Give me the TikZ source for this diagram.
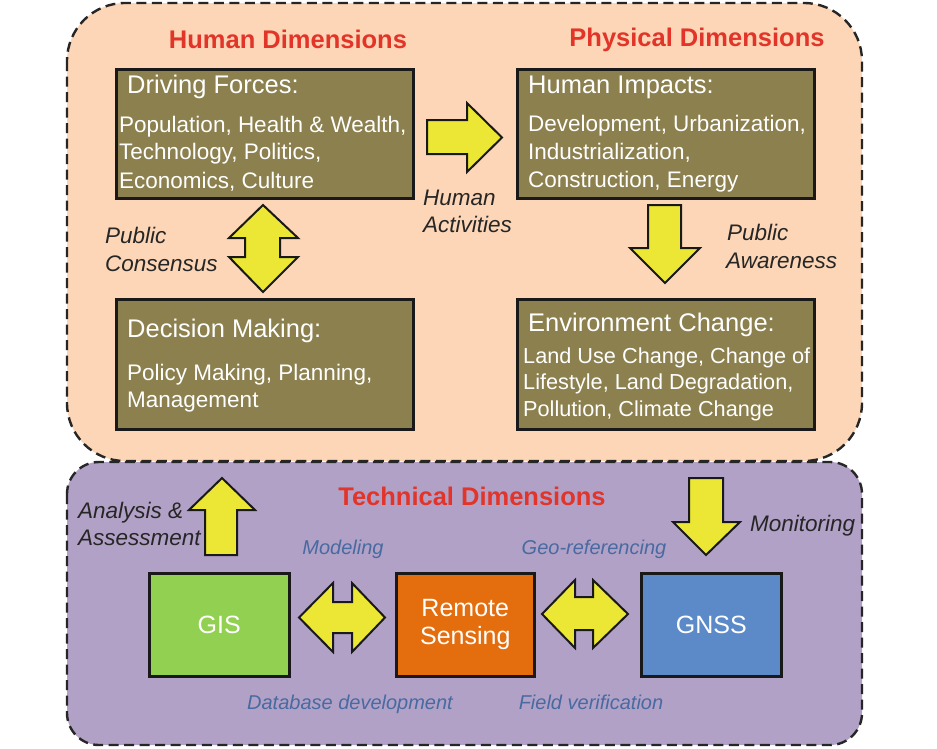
\documentclass[tikz,border=0pt]{standalone}
\usepackage{fontspec}
\setmainfont{Liberation Sans}
\definecolor{peach}{RGB}{252,214,182}
\definecolor{lavender}{RGB}{178,161,199}
\definecolor{olivebox}{RGB}{139,128,78}
\definecolor{arrowyellow}{RGB}{236,230,52}
\definecolor{headred}{RGB}{226,52,40}
\definecolor{labelblue}{RGB}{72,106,160}
\definecolor{gisgreen}{RGB}{146,208,82}
\definecolor{rsorange}{RGB}{228,110,14}
\definecolor{gnssblue}{RGB}{92,138,200}
\begin{document}
\begin{tikzpicture}[x=1pt,y=-1pt,
  panel/.style={draw=black!85, line width=2.4pt, dash pattern=on 10pt off 5.5pt},
  box/.style={draw=black!90, line width=2.5pt, inner sep=0, anchor=north west},
  boxtitle/.style={anchor=base west, inner sep=0, text=white, font=\fontsize{25.5}{30}\selectfont},
  boxline/.style={anchor=base west, inner sep=0, text=white, font=\fontsize{22.5}{27}\selectfont},
  narrowline/.style={boxline, font=\fontsize{21.7}{27}\selectfont},
  heading/.style={anchor=base, inner sep=0, text=headred, font=\fontsize{25.5}{30}\selectfont\bfseries},
  flowlabel/.style={anchor=base west, inner sep=0, text=black!85, font=\fontsize{22.5}{27}\selectfont\itshape},
  techlabel/.style={anchor=base, inner sep=0, text=labelblue, font=\fontsize{20}{24}\selectfont\itshape},
  techbox/.style={draw=black!90, line width=2.5pt, inner sep=0, anchor=north west, text=white,
    align=center, font=\fontsize{25}{30}\selectfont},
  blockarrow/.style={draw=black!90, line width=2pt, fill=arrowyellow, line join=miter}
]
\useasboundingbox[fill=white] (0,0) rectangle (937,748);

% panels
\draw[panel, fill=lavender, rounded corners=32pt] (67,462) rectangle (862,745);
\draw[panel, fill=peach, rounded corners=58pt] (67,3) rectangle (862,461);

% headings
\node[heading] (hhum) at (288,48) {Human Dimensions};
\node[heading] (hphy) at (697,46) {Physical Dimensions};
\node[heading] (htec) at (472,505) {Technical Dimensions};

% driving forces
\node[box, fill=olivebox, minimum width=297, minimum height=129] (df) at (115,68) {};
\node[boxtitle] (dft) at (127,93) {Driving Forces:};
\node[boxline] (df1) at (119,132) {Population, Health \& Wealth,};
\node[boxline] (df2) at (119,159) {Technology, Politics,};
\node[boxline] (df3) at (119,188) {Economics, Culture};

% human impacts
\node[box, fill=olivebox, minimum width=297, minimum height=129] (hi) at (516,68) {};
\node[boxtitle] (hit) at (528,93) {Human Impacts:};
\node[boxline] (hi1) at (528,131) {Development, Urbanization,};
\node[boxline] (hi2) at (528,159) {Industrialization,};
\node[boxline] (hi3) at (528,187) {Construction, Energy};

% decision making
\node[box, fill=olivebox, minimum width=297, minimum height=130] (dm) at (115,298) {};
\node[boxtitle] (dmt) at (127,337) {Decision Making:};
\node[boxline] (dm1) at (127,380) {Policy Making, Planning,};
\node[boxline] (dm2) at (127,407) {Management};

% environment change
\node[box, fill=olivebox, minimum width=297, minimum height=130] (ec) at (516,298) {};
\node[boxtitle] (ect) at (528,331) {Environment Change:};
\node[narrowline] (ec1) at (523,363) {Land Use Change, Change of};
\node[narrowline] (ec2) at (523,389) {Lifestyle, Land Degradation,};
\node[narrowline] (ec3) at (523,416) {Pollution, Climate Change};

% technical boxes
\node[techbox, fill=gisgreen, minimum width=140, minimum height=103] (gis) at (148,572) {GIS};
\node[techbox, fill=rsorange, minimum width=138, minimum height=103] (rs) at (395,572) {Remote\\[-2pt]Sensing};
\node[techbox, fill=gnssblue, minimum width=140, minimum height=103] (gnss) at (640,572) {GNSS};

% block arrows
\draw[blockarrow] (427,120) -- (467,120) -- (467,103) -- (502,137.5) -- (467,172) -- (467,154) -- (427,154) -- cycle;
\draw[blockarrow] (263,205) -- (298,238) -- (280,238) -- (280,257) -- (298,257) -- (263,292)
  -- (229,257) -- (245,257) -- (245,238) -- (229,238) -- cycle;
\draw[blockarrow] (648,205) -- (681,205) -- (681,248) -- (700,248) -- (665,283) -- (630,248) -- (648,248) -- cycle;
\draw[blockarrow] (222,478) -- (255,510) -- (237,510) -- (237,555) -- (205,555) -- (205,510) -- (189,510) -- cycle;
\draw[blockarrow] (689,478) -- (723,478) -- (723,522) -- (740,522) -- (706,555) -- (673,522) -- (689,522) -- cycle;
\draw[blockarrow] (299,617.5) -- (333,583) -- (333,602) -- (352,602) -- (352,583) -- (385,617.5)
  -- (352,652) -- (352,633) -- (333,633) -- (333,652) -- cycle;
\draw[blockarrow] (542,614) -- (575,580) -- (575,597) -- (593,597) -- (593,580) -- (628,614)
  -- (593,648) -- (593,630) -- (575,630) -- (575,648) -- cycle;

% flow labels
\node[flowlabel] (ha1) at (423,205) {Human};
\node[flowlabel] (ha2) at (423,232) {Activities};
\node[flowlabel] (pc1) at (105,243) {Public};
\node[flowlabel] (pc2) at (105,271) {Consensus};
\node[flowlabel] (pa1) at (727,240) {Public};
\node[flowlabel] (pa2) at (726,268) {Awareness};
\node[flowlabel] (aa1) at (78,518) {Analysis \&};
\node[flowlabel] (aa2) at (78,545) {Assessment};
\node[flowlabel] (mon) at (750,531) {Monitoring};

% technical labels
\node[techlabel] (mod) at (343,554) {Modeling};
\node[techlabel] (geo) at (594,554) {Geo-referencing};
\node[techlabel] (dbd) at (350,709) {Database development};
\node[techlabel] (fv) at (591,709) {Field verification};
\end{tikzpicture}
\end{document}
